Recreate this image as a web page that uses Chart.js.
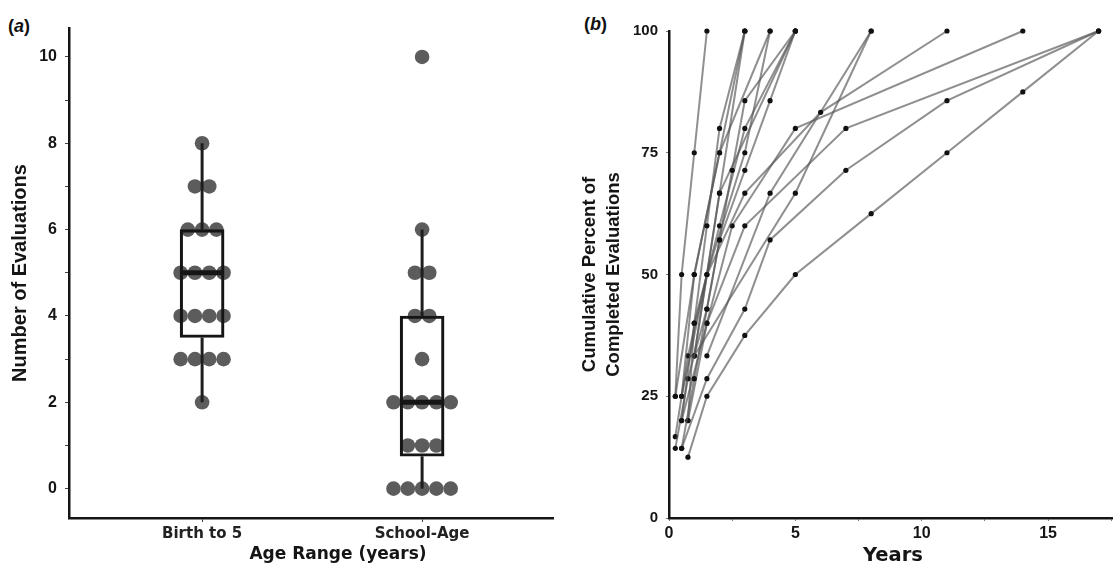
<!DOCTYPE html>
<html>
<head>
<meta charset="utf-8">
<script src="https://cdn.jsdelivr.net/npm/chart.js"></script>
<style>
  html, body { margin: 0; padding: 0; background: #ffffff; }
  body { width: 1113px; height: 564px; position: relative; overflow: hidden; }
  .panel { position: absolute; top: 0; }
  .plabel { position: absolute; font: bold 18px "Liberation Sans", Arial, sans-serif; color: #111; }
</style>
</head>
<body>
<div class="plabel" style="left:8px; top:16px;">(<i>a</i>)</div>
<div class="plabel" style="left:584px; top:14px;">(<i>b</i>)</div>
<div class="panel" style="left:0px; width:560px; height:564px;"><canvas id="chartA" width="560" height="564"></canvas></div>
<div class="panel" style="left:570px; width:543px; height:564px;"><canvas id="chartB" width="543" height="564"></canvas></div>
<script>
// ---------------- Panel (a) data ----------------
const groups = ['Birth to 5', 'School-Age'];
const birthTo5Evals = [8, 7, 7, 6, 6, 6, 5, 5, 5, 5, 4, 4, 4, 4, 3, 3, 3, 3, 2];
const schoolAgeEvals = [10, 6, 5, 5, 4, 4, 3, 2, 2, 2, 2, 2, 1, 1, 1, 0, 0, 0, 0, 0];
const boxQ1 = [3.5, 0.75];
const boxMedian = [5, 2];
const boxQ3 = [6, 4];
const whiskerLow = [2, 0];
const whiskerHigh = [8, 6];
const yTicksA = [0, 1, 2, 3, 4, 5, 6, 7, 8, 9, 10];

// ---------------- Panel (b) data ----------------
const childYears = [
  [0.25, 0.5, 1, 1.5],
  [0.5, 1, 1.5, 2, 3],
  [0.5, 1, 2, 4],
  [0.25, 0.75, 1.5, 2, 2.5, 3, 5],
  [0.5, 1, 1.5, 2, 3, 4, 5],
  [0.5, 1.5, 3, 4, 7, 11, 17],
  [0.75, 1.5, 3, 5, 8, 11, 14, 17],
  [0.25, 0.75, 1.5, 3, 6, 11],
  [0.75, 1, 2, 3, 5],
  [1, 2, 5],
  [1.5, 4, 8],
  [0.75, 1.5, 2.5, 5, 14],
  [0.5, 1.5, 3, 7, 17],
  [0.25, 1, 2, 3],
  [0.5, 1.5, 3, 4],
  [1, 2, 3],
  [1, 5, 8]
];
const childPercent = [
  [25, 50, 75, 100],
  [20, 40, 60, 80, 100],
  [25, 50, 75, 100],
  [14.3, 28.6, 42.9, 57.1, 71.4, 85.7, 100],
  [14.3, 28.6, 42.9, 57.1, 71.4, 85.7, 100],
  [14.3, 28.6, 42.9, 57.1, 71.4, 85.7, 100],
  [12.5, 25, 37.5, 50, 62.5, 75, 87.5, 100],
  [16.7, 33.3, 50, 66.7, 83.3, 100],
  [20, 40, 60, 80, 100],
  [33.3, 66.7, 100],
  [33.3, 66.7, 100],
  [20, 40, 60, 80, 100],
  [20, 40, 60, 80, 100],
  [25, 50, 75, 100],
  [25, 50, 75, 100],
  [33.3, 66.7, 100],
  [33.3, 66.7, 100]
];
const yTicksB = [0, 25, 50, 75, 100];
const xTicksB = [0, 2.5, 5, 7.5, 10, 12.5, 15, 17.5];

// ---------------- helpers ----------------
const SANS = '"Liberation Sans", Arial, sans-serif';
const DEJAVU = '"DejaVu Sans", Verdana, sans-serif';
const INK = '#151515';

// beeswarm layout: spread equal values side by side around the group position
function swarm(values, groupPos, step) {
  const counts = {};
  values.forEach(v => counts[v] = (counts[v] || 0) + 1);
  const seen = {};
  return values.map(v => {
    const n = counts[v];
    const i = (seen[v] = (seen[v] || 0) + 1) - 1;
    return { x: groupPos + (i - (n - 1) / 2) * step, y: v };
  });
}

const bottomTitle = {
  id: 'bottomTitle',
  afterDraw(chart, args, opts) {
    if (!opts || !opts.text) return;
    const ctx = chart.ctx;
    const ca = chart.chartArea;
    ctx.save();
    ctx.font = opts.font;
    ctx.fillStyle = INK;
    ctx.textAlign = 'center';
    ctx.textBaseline = 'alphabetic';
    ctx.fillText(opts.text, (ca.left + ca.right) / 2 + opts.dx, opts.baseline);
    ctx.restore();
  }
};
Chart.register(bottomTitle);

function fixX(s) { s.height = 46; s.paddingLeft = 0; s.paddingRight = 0; }

// ---------------- Chart (a) ----------------
const DOT_STEP = 0.065;
const dotsData = swarm(birthTo5Evals, 1, DOT_STEP).concat(swarm(schoolAgeEvals, 2, DOT_STEP));

const datasetsA = [];
datasetsA.push({
  type: 'scatter',
  data: dotsData,
  pointRadius: 7.3,
  pointHoverRadius: 7.3,
  pointBackgroundColor: '#5c5c5c',
  pointBorderWidth: 0,
  clip: false,
  order: 10
});
datasetsA.push({
  type: 'bar',
  data: groups.map((g, i) => ({ x: i + 1, y: [boxQ1[i], boxQ3[i]] })),
  backgroundColor: 'rgba(0,0,0,0)',
  borderColor: INK,
  borderWidth: 2.5,
  borderSkipped: false,
  barThickness: 44,
  order: 5
});
groups.forEach((g, i) => {
  [[whiskerLow[i], boxQ1[i]], [boxQ3[i], whiskerHigh[i]]].forEach(seg => {
    datasetsA.push({
      type: 'scatter',
      showLine: true,
      data: [{ x: i + 1, y: seg[0] }, { x: i + 1, y: seg[1] }],
      borderColor: '#1e1e1e',
      borderWidth: 3,
      pointRadius: 0,
      clip: false,
      order: 3
    });
  });
});
datasetsA.push({
  type: 'scatter',
  data: groups.map((g, i) => ({ x: i + 1, y: boxMedian[i] })),
  pointStyle: 'line',
  pointRadius: 22,
  pointBorderWidth: 5,
  pointBorderColor: INK,
  order: 1
});

new Chart(document.getElementById('chartA'), {
  type: 'scatter',
  data: { datasets: datasetsA },
  options: {
    responsive: false,
    animation: false,
    devicePixelRatio: 1,
    layout: { autoPadding: false, padding: { top: 28, right: 7, left: 0, bottom: 0 } },
    plugins: {
      legend: { display: false },
      tooltip: { enabled: false },
      bottomTitle: { text: 'Age Range (years)', font: 'bold 17px ' + DEJAVU, dx: 27, baseline: 559 }
    },
    scales: {
      x: {
        type: 'linear',
        min: 0.395,
        max: 2.595,
        offset: false,
        afterBuildTicks: s => { s.ticks = groups.map((g, i) => ({ value: i + 1 })); },
        afterFit: fixX,
        ticks: {
          callback: v => groups[Math.round(v) - 1] || '',
          font: { family: DEJAVU, size: 15, weight: 'bold' },
          color: '#222',
          padding: 3,
          maxRotation: 0
        },
        grid: { display: true, offset: false, drawOnChartArea: false, drawTicks: true, tickLength: 4, color: '#444', lineWidth: 1 },
        border: { display: true, color: INK, width: 2.5 },
        title: { display: false }
      },
      y: {
        type: 'linear',
        min: -0.68,
        max: 10.67,
        afterBuildTicks: s => { s.ticks = yTicksA.map(v => ({ value: v })); },
        afterFit: s => { s.width = 69; },
        ticks: {
          callback: v => (v % 2 === 0 ? String(v) : ''),
          font: { family: SANS, size: 16, weight: 'bold' },
          color: INK,
          padding: 8
        },
        grid: { display: true, offset: false, drawOnChartArea: false, drawTicks: true, tickLength: 4, color: '#444', lineWidth: 1 },
        border: { display: true, color: INK, width: 2.5 },
        title: {
          display: true,
          text: 'Number of Evaluations',
          font: { family: SANS, size: 20, weight: 'bold', lineHeight: 1.2 },
          color: INK,
          padding: { top: 8, bottom: 0 }
        }
      }
    }
  }
});

// ---------------- Chart (b) ----------------
const datasetsB = childYears.map((xs, k) => ({
  type: 'scatter',
  showLine: true,
  data: xs.map((x, j) => ({ x: x, y: childPercent[k][j] })),
  borderColor: 'rgba(85,85,85,0.66)',
  borderWidth: 2,
  pointRadius: 2.6,
  pointHoverRadius: 2.6,
  pointBackgroundColor: '#111',
  pointBorderWidth: 0,
  clip: false
}));

new Chart(document.getElementById('chartB'), {
  type: 'scatter',
  data: { datasets: datasetsB },
  options: {
    responsive: false,
    animation: false,
    devicePixelRatio: 1,
    layout: { autoPadding: false, padding: { top: 31, right: 0, left: 0, bottom: 0 } },
    plugins: {
      legend: { display: false },
      tooltip: { enabled: false },
      bottomTitle: { text: 'Years', font: 'bold 19.5px ' + DEJAVU, dx: 2, baseline: 561 }
    },
    scales: {
      x: {
        type: 'linear',
        min: 0,
        max: 17.57,
        afterBuildTicks: s => { s.ticks = xTicksB.map(v => ({ value: v })); },
        afterFit: fixX,
        ticks: {
          callback: v => (v % 5 === 0 ? String(v) : ''),
          font: { family: SANS, size: 16, weight: 'bold' },
          color: INK,
          padding: 3,
          maxRotation: 0
        },
        grid: { display: true, drawOnChartArea: false, drawTicks: true, tickLength: 3, color: '#777', lineWidth: 1 },
        border: { display: true, color: INK, width: 2.5 }
      },
      y: {
        type: 'linear',
        min: 0,
        max: 100,
        afterBuildTicks: s => { s.ticks = yTicksB.map(v => ({ value: v })); },
        afterFit: s => { s.width = 99; },
        ticks: {
          font: { family: SANS, size: 15, weight: 'bold' },
          color: INK,
          padding: 8
        },
        grid: { display: true, drawOnChartArea: false, drawTicks: true, tickLength: 3, color: '#777', lineWidth: 1 },
        border: { display: true, color: INK, width: 2.5 },
        title: {
          display: true,
          text: ['Cumulative Percent of', 'Completed Evaluations'],
          font: { family: SANS, size: 18.5, weight: 'bold', lineHeight: 1.265 },
          color: INK,
          padding: { top: 8.5, bottom: 0 }
        }
      }
    }
  }
});
</script>
</body>
</html>
